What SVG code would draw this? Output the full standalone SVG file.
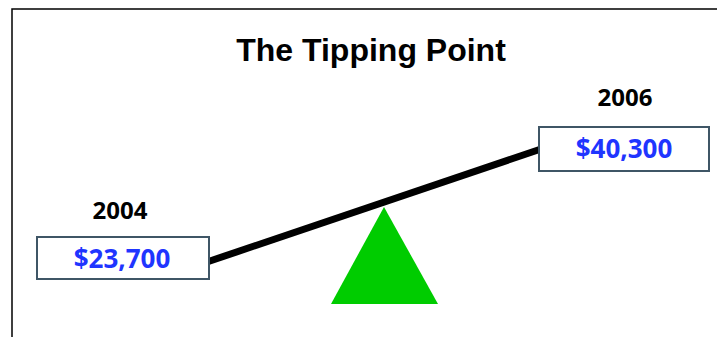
<svg xmlns="http://www.w3.org/2000/svg" width="717" height="337" viewBox="0 0 717 337">
<style>
.frame{fill:none;stroke:#000;stroke-width:1.5}
.box{fill:#fff;stroke:#3f5666;stroke-width:2}
.val{font-family:"Open Sans","Noto Sans",sans-serif;font-weight:bold;font-size:26px;fill:#1f35ff;text-anchor:middle}
.yr{font-family:"Open Sans","Noto Sans",sans-serif;font-weight:bold;font-size:24px;fill:#000;text-anchor:middle}
.title{font-family:"Liberation Sans",Arial,sans-serif;font-weight:bold;font-size:32px;fill:#000;text-anchor:middle}
</style>
<rect width="717" height="337" fill="#fff"/>
<rect class="frame" x="12" y="9" width="720" height="340"/>
<text class="title" x="371" y="61">The Tipping Point</text>
<g id="fulcrum"><polygon points="384,207 331,304 438,304" fill="#00cc00"/></g>
<g id="connectors"><line x1="207" y1="262" x2="541" y2="149" stroke="#000" stroke-width="7"/></g>
<g id="node-2004">
<text class="yr" x="120" y="219">2004</text>
<rect class="box" x="37" y="237" width="172" height="42"/>
<text class="val" x="122" y="268">$23,700</text>
</g>
<g id="node-2006">
<text class="yr" x="625" y="106">2006</text>
<rect class="box" x="539" y="127" width="170" height="44"/>
<text class="val" x="624" y="158">$40,300</text>
</g>
</svg>
